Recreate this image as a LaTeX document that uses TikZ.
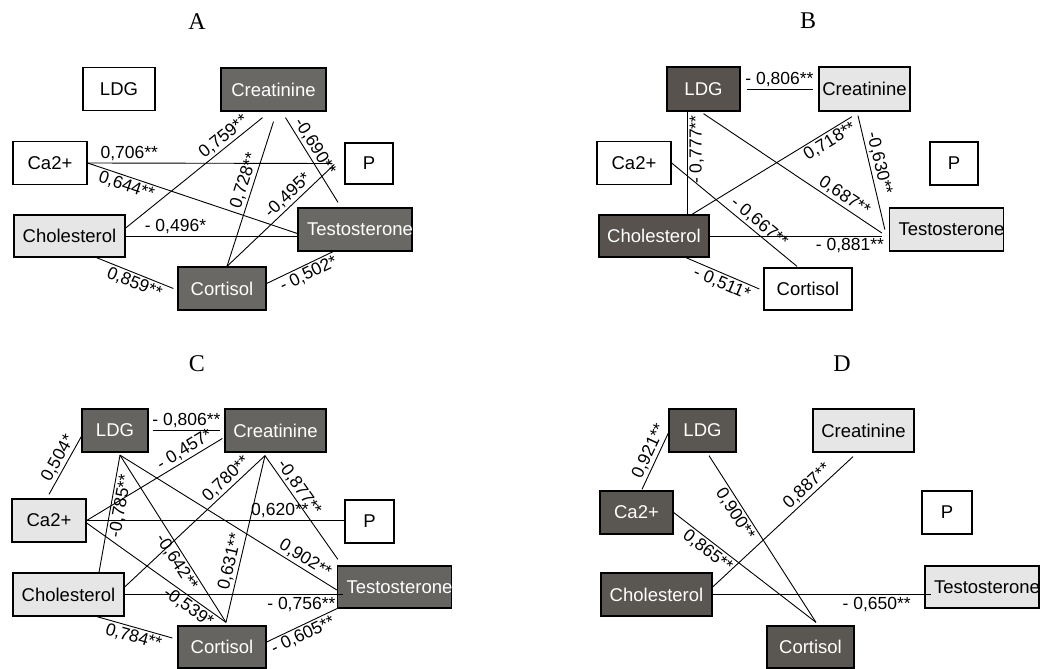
\documentclass[tikz,border=0pt]{standalone}
\usepackage{fontspec}
\setmainfont{Liberation Sans}
\newfontfamily\titlefont{Liberation Serif}
\usetikzlibrary{calc}
\definecolor{darkA}{RGB}{106,104,100}
\definecolor{darkB}{RGB}{87,82,77}
\definecolor{darkC}{RGB}{102,100,97}
\definecolor{darkD}{RGB}{90,86,82}
\definecolor{lightbox}{RGB}{230,230,230}

\begin{document}
\begin{tikzpicture}[x=1pt, y=-1pt,
    box/.style={draw, line width=1.3pt, minimum height=43pt, inner sep=0pt, font=\fontsize{18.5}{20}\selectfont},
    wbox/.style={box, fill=white},
    lbox/.style={box, fill=lightbox},
    dbox/.style={box, fill=#1, text=white},
    tes/.style={minimum width=114pt, text width=96pt, align=left, inner xsep=9pt},
    ttl/.style={font=\titlefont\fontsize{24}{26}\selectfont},
    lab/.style={font=\fontsize{17.5}{19}\selectfont, inner sep=2pt},
    ln/.style={line width=0.9pt}]
    \useasboundingbox (0,0) rectangle (1053,669);

    % A
    \node[ttl] (tA) at (197,22) {A};
    \node[wbox, minimum width=72pt] (aLDG) at (119,89) {LDG};
    \node[dbox=darkA, minimum width=105pt] (aCre) at (273.5,89.5) {Creatinine};
    \node[wbox, minimum width=74pt] (aCa) at (50,163) {Ca2+};
    \node[wbox, minimum width=48pt, minimum height=41pt] (aP) at (369,163.5) {P};
    \node[lbox, minimum width=111pt, minimum height=42pt] (aCho) at (69.5,236) {Cholesterol};
    \node[dbox=darkA, tes] (aTes) at (355,229.5) {Testosterone};
    \node[dbox=darkA, minimum width=88pt] (aCor) at (222,288.5) {Cortisol};

    \draw[ln] (aCa.east) -- ([xshift=-12pt]aP.west) node[lab, pos=0.17, above] {0,706**};
    \draw[ln] (aCa.east) -- ([yshift=-4pt]aTes.west) node[lab, sloped, pos=0.2, below] {0,644**};
    \draw[ln] (aCho.east) -- (aCho.east -| aTes.west) node[lab, pos=0.29, above] {- 0,496*};
    \draw[ln] ([yshift=8pt]aCho.east) -- ([xshift=-11pt,yshift=-6pt]aCre.south) node[lab, sloped, pos=0.76, above] {0,759**};
    \draw[ln] ([yshift=-10pt]aCre.south) -- ([xshift=5pt]aCor.north) node[lab, sloped, pos=0.43, above] {0,728**};
    \draw[ln] ([xshift=12pt,yshift=-6pt]aCre.south) -- ([xshift=-17pt,yshift=5pt]aTes.north) node[lab, sloped, pos=0.4, above] {-0,690**};
    \draw[ln] ([xshift=5pt]aCor.north) -- ([xshift=-10pt,yshift=-1pt]aP.west) node[lab, sloped, pos=0.63, above] {-0,495*};
    \draw[ln] ([xshift=27pt]aCho.south) -- ([xshift=-4pt]aCor.west) node[lab, sloped, pos=0.54, below] {0,859**};
    \draw[ln] ([yshift=5pt]aCor.east) -- ([xshift=-22pt]aTes.south) node[lab, sloped, pos=0.57, below] {- 0,502*};

    % B
    \node[ttl] (tB) at (808,21) {B};
    \node[dbox=darkB, minimum width=73pt, minimum height=44pt] (bLDG) at (703.5,89) {LDG};
    \node[lbox, minimum width=91pt, minimum height=44pt] (bCre) at (864.5,89) {Creatinine};
    \node[wbox, minimum width=74pt] (bCa) at (634,163) {Ca2+};
    \node[wbox, minimum width=48pt] (bP) at (954,163.5) {P};
    \node[dbox=darkB, minimum width=110pt, minimum height=42pt] (bCho) at (654,236) {Cholesterol};
    \node[lbox, tes] (bTes) at (946.5,229.5) {Testosterone};
    \node[wbox, minimum width=88pt, minimum height=42pt] (bCor) at (808,289) {Cortisol};

    \draw[ln, shorten <=6pt, shorten >=5pt] (bLDG) -- (bCre) node[lab, midway, above] {- 0,806**};
    \coordinate (bv) at ($(bLDG.south)+(-16.5,0)$);
    \draw[ln] (bv |- bCho.north) -- (bv) node[lab, sloped, pos=0.63, below] {- 0,777**};
    \draw[ln] ([yshift=-2pt]bLDG.south) -- ([xshift=-7pt,yshift=-3.5pt]bTes.west) node[lab, sloped, pos=0.76, above] {0,687**};
    \draw[ln] ([xshift=38pt]bCho.north) -- ([xshift=-12.5pt,yshift=-5pt]bCre.south) node[lab, sloped, pos=0.83, below] {0,718**};
    \draw[ln] ([xshift=-6.5pt,yshift=-4pt]bCre.south) -- ([xshift=-4pt]bTes.west) node[lab, sloped, pos=0.44, above] {-0,630**};
    \draw[ln] (bCho.east) -- ($(bCho.east -| bTes.west)+(-7,0)$) node[lab, pos=0.815, below] {- 0,881**};
    \draw[ln] (bCa.east) -- ([xshift=-11pt,yshift=1pt]bCor.north) node[lab, sloped, pos=0.65, above] {- 0,667**};
    \draw[ln] ([xshift=32pt]bCho.south) -- ([xshift=-4pt]bCor.west) node[lab, sloped, pos=0.54, below] {- 0,511*};

    % C
    \node[ttl] (tC) at (197,364) {C};
    \node[dbox=darkC, minimum width=66pt] (cLDG) at (115,430.5) {LDG};
    \node[dbox=darkC, minimum width=101pt] (cCre) at (275.5,430.5) {Creatinine};
    \node[lbox, minimum width=74pt] (cCa) at (49,520.5) {Ca2+};
    \node[wbox, minimum width=49pt] (cP) at (369.5,521.5) {P};
    \node[lbox, minimum width=111pt] (cCho) at (68.5,594.5) {Cholesterol};
    \node[dbox=darkC, tes, minimum height=42pt] (cTes) at (394.5,587) {Testosterone};
    \node[dbox=darkC, minimum width=88pt, minimum height=42pt] (cCor) at (222,647) {Cortisol};

    \coordinate (cL) at ([xshift=5pt,yshift=-2.5pt]cLDG.south);
    \coordinate (cC) at ([xshift=-10.5pt,yshift=-3pt]cCre.south);
    \coordinate (cK) at ([xshift=4pt,yshift=3pt]cCor.north);
    \draw[ln, shorten <=4pt, shorten >=4pt] (cLDG) -- (cCre) node[lab, midway, above] {- 0,806**};
    \draw[ln] ([yshift=4pt]cCa.north) -- ([yshift=-6pt]cLDG.west) node[lab, sloped, pos=0.54, above] {0,504*};
    \draw[ln] (cCa.east) -- ([xshift=-2pt,yshift=-8pt]cCre.west) node[lab, sloped, pos=0.76, above] {- 0,457*};
    \draw[ln] (cCa.east) -- (cCa.east -| cP.west) node[lab, pos=0.75, above] {0,620**};
    \draw[ln] ([yshift=-2.5pt]cCa.east) -- (cK) node[lab, sloped, pos=0.77, below] {-0,539*};
    \draw[ln] (cL) -- ([xshift=30.5pt]cCho.north) node[lab, sloped, pos=0.42, below] {-0,785**};
    \draw[ln] (cL) -- (cK) node[lab, sloped, pos=0.61, below] {-0,642**};
    \draw[ln] (cL) -- ([yshift=-3pt]cTes.west) node[lab, sloped, pos=0.83, above] {0,902**};
    \draw[ln] ([yshift=7.5pt]cCho.east) -- (cC) node[lab, sloped, pos=0.77, above] {0,780**};
    \draw[ln] (cC) -- (cK) node[lab, sloped, pos=0.65, above] {0,631**};
    \draw[ln] (cC) -- ([xshift=1pt,yshift=6pt]cTes.north west) node[lab, sloped, pos=0.36, above] {-0,877**};
    \draw[ln] (cCho.east) -- ($(cCho.east -| cTes.west)+(6,0)$) node[lab, pos=0.81, below] {- 0,756**};
    \draw[ln] ([xshift=28.5pt]cCho.south) -- ([xshift=-5pt,yshift=9pt]cCor.west) node[lab, sloped, pos=0.52, below] {0,784**};
    \draw[ln] ([yshift=5pt]cCor.east) -- (cTes.south west) node[lab, sloped, pos=0.46, below] {- 0,605**};

    % D
    \node[ttl] (tD) at (842,364) {D};
    \node[dbox=darkD, minimum width=67pt] (dLDG) at (702.5,430.5) {LDG};
    \node[lbox, minimum width=101pt] (dCre) at (863.5,430.5) {Creatinine};
    \node[dbox=darkD, minimum width=73pt] (dCa) at (636.5,512.5) {Ca2+};
    \node[wbox, minimum width=50pt] (dP) at (947,512.5) {P};
    \node[dbox=darkD, minimum width=111pt] (dCho) at (656.5,594.5) {Cholesterol};
    \node[lbox, tes, minimum height=42pt] (dTes) at (982,587) {Testosterone};
    \node[dbox=darkD, minimum width=87pt, minimum height=42pt] (dCor) at (810.5,647) {Cortisol};

    \coordinate (dK) at ([xshift=5.5pt,yshift=3pt]dCor.north);
    \draw[ln] ([xshift=5.5pt,yshift=1pt]dCa.north) -- ([yshift=-2.5pt]dLDG.west) node[lab, sloped, pos=0.6, above] {0,921**};
    \draw[ln] ([xshift=6.5pt,yshift=-3pt]dLDG.south) -- (dK) node[lab, sloped, pos=0.32, below] {0,900**};
    \draw[ln] (dCa.east) -- (dK) node[lab, sloped, pos=0.28, below] {0,865**};
    \draw[ln] ([yshift=7.5pt]dCho.east) -- ([xshift=-10.5pt,yshift=-4pt]dCre.south) node[lab, sloped, pos=0.72, above] {0,887**};
    \draw[ln] (dCho.east) -- ($(dCho.east -| dTes.west)+(7,0)$) node[lab, pos=0.75, below] {- 0,650**};
\end{tikzpicture}
\end{document}
